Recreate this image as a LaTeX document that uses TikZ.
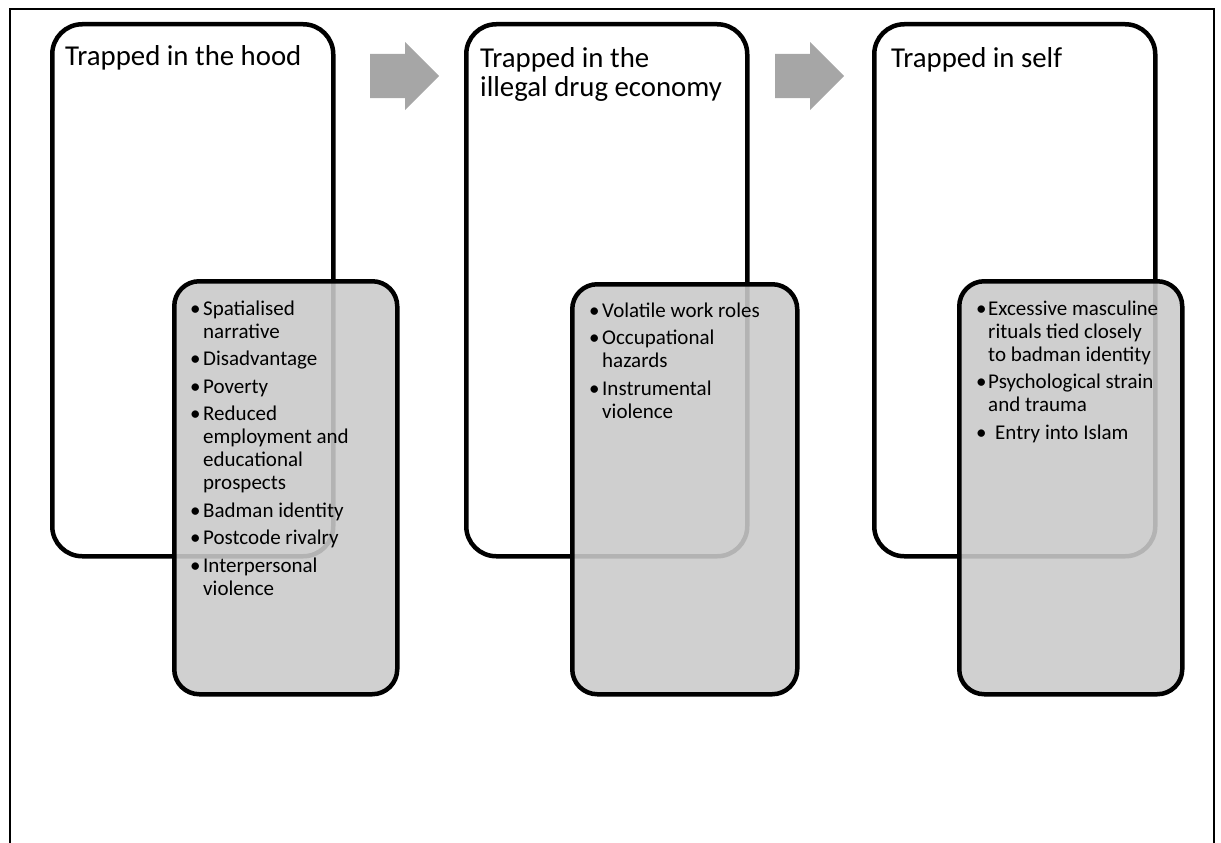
\documentclass[tikz,border=0pt]{standalone}
\usepackage{fontspec}
\setmainfont{Carlito}
\definecolor{arrowgray}{RGB}{166,166,166}
\definecolor{boxgray}{RGB}{202,202,202}
\tikzset{
  outerbox/.style={draw=black, line width=4.5pt, rounded corners=30pt, fill=white, anchor=north west, inner sep=0pt, minimum width=281pt, minimum height=532pt},
  greybox/.style={draw=black, line width=4.5pt, rounded corners=25pt, fill=boxgray, fill opacity=0.89, draw opacity=1, anchor=north west, inner sep=0pt},
  titletext/.style={anchor=base west, inner sep=0pt, font=\fontsize{28.8}{29}\selectfont},
  li/.style={anchor=base west, inner sep=0pt, font=\fontsize{21}{23}\selectfont},
  bul/.style={anchor=base west, inner sep=0pt, font=\fontsize{21}{23}\selectfont},
  blockarrow/.style={fill=arrowgray}
}
\begin{document}
\begin{tikzpicture}[x=1pt,y=-1pt]
\useasboundingbox (0,0) rectangle (1221,843);
% outer frame
\coordinate (fbl) at (10,846);
\coordinate (ftl) at (10,9);
\coordinate (ftr) at (1214,9);
\coordinate (fbr) at (1214,846);
\draw[line width=2.2pt] (fbl) -- (ftl) -- (ftr) -- (fbr);
% white boxes
\node[outerbox] (b1) at (50,22) {};
\node[outerbox] (b2) at (464,22) {};
\node[outerbox] (b3) at (872,22) {};
% block arrows
\fill[blockarrow] (370,54) -- (405,54) -- (405,42) -- (439,76) -- (405,110) -- (405,98) -- (370,98) -- cycle;
\fill[blockarrow] (775,54) -- (810,54) -- (810,42) -- (844,76) -- (810,110) -- (810,98) -- (775,98) -- cycle;
% grey boxes
\node[greybox, minimum width=223pt, minimum height=413pt] (g1) at (172,279) {};
\node[greybox, minimum width=225pt, minimum height=410pt] (g2) at (570,282) {};
\node[greybox, minimum width=223pt, minimum height=413pt] (g3) at (957,279) {};
% titles
\node[titletext] (t1) at (65,66) {Trapped in the hood};
\node[titletext] (t2a) at (480,67) {Trapped in the};
\node[titletext] (t2b) at (480,96) {illegal drug economy};
\node[titletext] (t3) at (891,67) {Trapped in self};
% list 1
\foreach \t/\y [count=\i] in {Spatialised/315, narrative/338, Disadvantage/365.5, Poverty/393, Reduced/420.5, employment and/443.5, educational/466.5, prospects/489.5, Badman identity/517, Postcode rivalry/544.5, Interpersonal/572, violence/595}
  \node[li] (l1-\i) at (203,\y) {\t};
\foreach \y [count=\i] in {315, 365.5, 393, 420.5, 517, 544.5, 572}
  \node[bul] (u1-\i) at (190,\y) {\textbullet};
% list 2
\foreach \t/\y [count=\i] in {Volatile work roles/317, Occupational/344.5, hazards/367.5, Instrumental/395, violence/418}
  \node[li] (l2-\i) at (602,\y) {\t};
\foreach \y [count=\i] in {317, 344.5, 395}
  \node[bul] (u2-\i) at (589,\y) {\textbullet};
% list 3
\foreach \t/\y [count=\i] in {Excessive masculine/315, rituals tied closely/338, to badman identity/361, Psychological strain/388.5, and trauma/411.5}
  \node[li] (l3-\i) at (988,\y) {\t};
\node[li] (l3-6) at (995,439) {Entry into Islam};
\foreach \y [count=\i] in {315, 388.5, 439}
  \node[bul] (u3-\i) at (976,\y) {\textbullet};
\end{tikzpicture}
\end{document}
